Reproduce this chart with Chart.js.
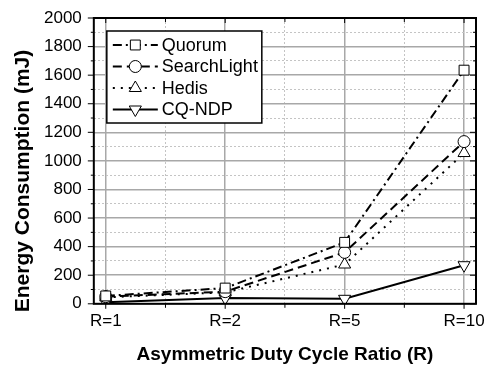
<!DOCTYPE html>
<html lang="en">
<head>
<meta charset="UTF-8">
<title>Energy Consumption vs Duty Cycle Ratio</title>
<script src="https://cdn.jsdelivr.net/npm/chart.js"></script>
<style>
  html, body { margin: 0; padding: 0; background: #fff; }
</style>
</head>
<body>
<canvas id="chart" width="489" height="368"></canvas>
<script>
  // data
  const ratios = ['R=1', 'R=2', 'R=5', 'R=10'];
  const quorum = [55, 110, 430, 1635];
  const searchLight = [50, 85, 360, 1135];
  const hedis = [45, 80, 275, 1055];
  const cqNdp = [10, 40, 35, 270];
  const yMajorTicks = [0, 200, 400, 600, 800, 1000, 1200, 1400, 1600, 1800, 2000];
  const yMinorTicks = [100, 300, 500, 700, 900, 1100, 1300, 1500, 1700, 1900];

  const xMajorTicks = ratios.map((_, i) => i + 1);
  const xMinorTicks = ratios.slice(1).map((_, i) => i + 1.5);

  Chart.defaults.font.family = "'Liberation Sans', Arial, sans-serif";
  Chart.defaults.color = '#000';

  function series(label, values, dash, style, radius, rotation) {
    return {
      label,
      data: values.map((v, i) => ({ x: i + 1, y: v })),
      borderColor: '#000',
      borderWidth: 2,
      borderDash: dash,
      pointStyle: style,
      pointRadius: radius,
      pointRotation: rotation || 0,
      pointBackgroundColor: '#fff',
      pointBorderColor: '#000',
      pointBorderWidth: 1,
      tension: 0
    };
  }

  const datasets = [
    series('Quorum', quorum, [9, 4, 2, 4], 'rect', 7),
    series('SearchLight', searchLight, [9, 5], 'circle', 6),
    series('Hedis', hedis, [2, 6], 'triangle', 7),
    series('CQ-NDP', cqNdp, [], 'triangle', 7, 180)
  ];

  const tickSet = vals => s => { s.ticks = vals.map(v => ({ value: v })); };
  // let layout.padding alone decide the plot edges
  const noEdgePadding = s => { s.paddingTop = 0; s.paddingBottom = 0; s.paddingLeft = 0; s.paddingRight = 0; };

  // minor (dotted) grid axis: no labels, takes no room
  const minorAxis = (position, min, max, vals) => ({
    type: 'linear', position, min, max,
    afterBuildTicks: tickSet(vals),
    afterFit: noEdgePadding,
    ticks: { display: false, padding: 0 },
    grid: { color: '#c4c4c4', lineWidth: 1, drawTicks: false, tickLength: 0 },
    border: { display: false, width: 0, dash: [2, 2] }
  });

  // frame + tick marks on all four sides
  const framePlugin = {
    id: 'frame',
    afterDatasetsDraw(chart) {
      const { ctx, chartArea: a, scales } = chart;
      ctx.save();
      ctx.strokeStyle = '#000';
      ctx.lineWidth = 1;
      const yTick = (v, len) => {
        const y = scales.y.getPixelForValue(v);
        ctx.beginPath();
        ctx.moveTo(a.left - len, y); ctx.lineTo(a.left, y);
        ctx.moveTo(a.right, y); ctx.lineTo(a.right - len, y);
        ctx.stroke();
      };
      const xTick = (v, len) => {
        const x = scales.x.getPixelForValue(v);
        ctx.beginPath();
        ctx.moveTo(x, a.bottom); ctx.lineTo(x, a.bottom + len);
        ctx.moveTo(x, a.top); ctx.lineTo(x, a.top + len);
        ctx.stroke();
      };
      yMajorTicks.forEach(v => yTick(v, 6));
      yMinorTicks.forEach(v => yTick(v, 3));
      xMajorTicks.forEach(v => xTick(v, 5));
      xMinorTicks.forEach(v => xTick(v, 4));
      ctx.lineWidth = 2;
      ctx.strokeRect(a.left, a.top, a.right - a.left, a.bottom - a.top);
      ctx.restore();
    }
  };

  // boxed legend with line samples and markers, inside the plot
  const legendPlugin = {
    id: 'boxLegend',
    afterDraw(chart) {
      const { ctx, chartArea: a } = chart;
      const left = a.left + 13, top = a.top + 13, w = 155, rowH = 21.5;
      ctx.save();
      ctx.fillStyle = '#fff';
      ctx.fillRect(left, top, w, rowH * 4 + 6);
      ctx.strokeStyle = '#000';
      ctx.lineWidth = 1.5;
      ctx.strokeRect(left, top, w, rowH * 4 + 6);
      ctx.font = "18px 'Liberation Sans', Arial, sans-serif";
      ctx.textBaseline = 'middle';
      chart.data.datasets.forEach((ds, i) => {
        const y = top + 14 + i * rowH;
        ctx.strokeStyle = '#000';
        ctx.lineWidth = 2;
        ctx.setLineDash(ds.borderDash);
        ctx.beginPath();
        ctx.moveTo(left + 6, y); ctx.lineTo(left + 51, y);
        ctx.stroke();
        ctx.setLineDash([]);
        ctx.fillStyle = '#fff';
        ctx.lineWidth = 1;
        Chart.helpers.drawPoint(ctx, {
          pointStyle: ds.pointStyle, rotation: ds.pointRotation,
          radius: ds.pointRadius, borderWidth: 1
        }, left + 28.5, y);
        ctx.fillStyle = '#000';
        ctx.fillText(ds.label, left + 55, y + 1);
      });
      ctx.restore();
    }
  };

  const yTitlePlugin = {
    id: 'yTitle',
    afterDraw(chart) {
      const { ctx } = chart;
      ctx.save();
      ctx.translate(23, 181);
      ctx.rotate(-Math.PI / 2);
      ctx.font = "bold 21px 'Liberation Sans', Arial, sans-serif";
      ctx.fillStyle = '#000';
      ctx.textAlign = 'center';
      ctx.textBaseline = 'middle';
      ctx.fillText('Energy Consumption (mJ)', 0, 0);
      ctx.restore();
    }
  };

  new Chart(document.getElementById('chart'), {
    type: 'line',
    data: { datasets },
    options: {
      responsive: false,
      animation: false,
      devicePixelRatio: 1,
      layout: { padding: { left: 32, right: 13, top: 18, bottom: 0 } },
      plugins: { legend: { display: false }, tooltip: { enabled: false } },
      scales: {
        x: {
          type: 'linear', min: 0.9, max: 4.1,
          afterBuildTicks: tickSet(xMajorTicks),
          afterFit: noEdgePadding,
          ticks: { callback: v => ratios[v - 1] || '', font: { size: 17 }, padding: 7, maxRotation: 0, autoSkip: false },
          grid: { color: '#a8a8a8', lineWidth: 1.5, drawTicks: false },
          border: { display: false },
          title: { display: true, text: 'Asymmetric Duty Cycle Ratio (R)', font: { size: 19, weight: 'bold' }, padding: { top: 5, bottom: 2 } }
        },
        xMinor: minorAxis('bottom', 0.9, 4.1, xMinorTicks),
        y: {
          type: 'linear', min: 0, max: 2000,
          afterBuildTicks: tickSet(yMajorTicks),
          afterFit: noEdgePadding,
          ticks: { callback: v => String(v), font: { size: 17 }, padding: 12 },
          grid: { color: '#a8a8a8', lineWidth: 1.5, drawTicks: false },
          border: { display: false }
        },
        yMinor: minorAxis('left', 0, 2000, yMinorTicks)
      }
    },
    plugins: [framePlugin, legendPlugin, yTitlePlugin]
  });
</script>
</body>
</html>
